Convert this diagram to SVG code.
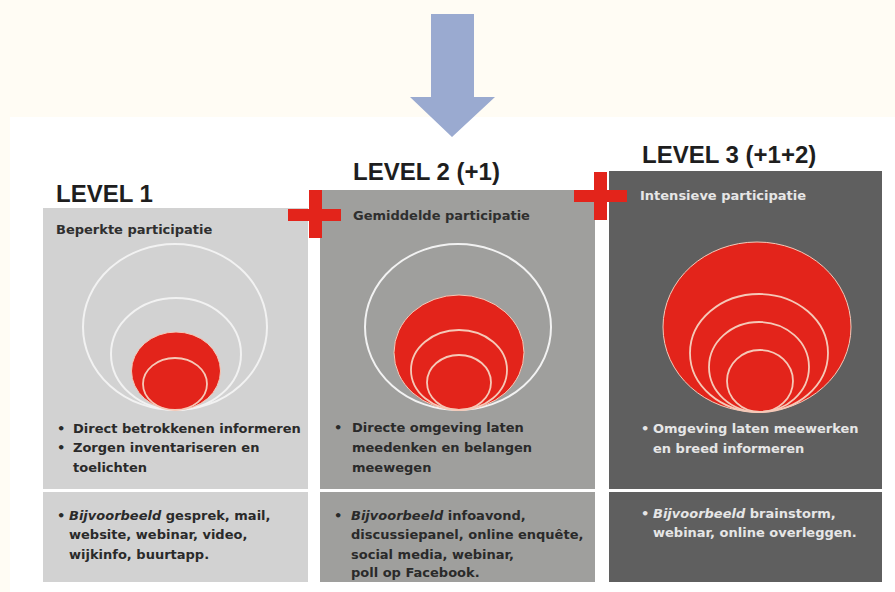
<svg xmlns="http://www.w3.org/2000/svg" width="895" height="592" viewBox="0 0 895 592">
  <style>
    .lvl { font-family: "Liberation Sans", Arial, sans-serif; font-weight: bold; font-size: 24px; fill: #1e1e1e; }
    .hd { font-family: "DejaVu Sans", "Liberation Sans", sans-serif; font-weight: bold; font-size: 13px; fill: #2f2f2f; }
    .tx { font-family: "DejaVu Sans", "Liberation Sans", sans-serif; font-weight: bold; font-size: 13px; fill: #2a2a2a; }
    .lt { fill: #e6e6e6; }
    .ring { fill: none; stroke: #f2f2f2; stroke-width: 2; }
    .rring { fill: none; stroke: #f5c9b8; stroke-width: 1.8; }
    .red { fill: #e3241b; stroke: #f5c9b8; stroke-width: 1; }
    .cross { fill: #e3241b; }
    .div { fill: #ffffff; }
  </style>
  <rect x="0" y="0" width="895" height="592" fill="#fffcf4"/>
  <rect x="10" y="117" width="885" height="475" fill="#ffffff"/>

  <g id="connectors">
    <polygon points="431,14 474,14 474,97 495,97 452,137 410,97 431,97" fill="#9aaad0"/>
  </g>

  <g id="level1">
    <text class="lvl" x="56" y="202">LEVEL 1</text>
    <rect x="43" y="208" width="265" height="374" fill="#d2d2d2"/>
    <rect class="div" x="43" y="489" width="265" height="3"/>
    <text class="hd" x="56" y="234">Beperkte participatie</text>
    <ellipse class="ring" cx="175" cy="327" rx="92" ry="83"/>
    <ellipse class="ring" cx="176" cy="354" rx="65" ry="56"/>
    <ellipse class="red" cx="176" cy="371" rx="44.5" ry="39"/>
    <ellipse class="rring" cx="175" cy="384" rx="32" ry="26"/>
    <text class="tx" x="57" y="433">•</text>
    <text class="tx" x="73" y="433">Direct betrokkenen informeren</text>
    <text class="tx" x="57" y="452">•</text>
    <text class="tx" x="73" y="452">Zorgen inventariseren en</text>
    <text class="tx" x="73" y="472">toelichten</text>
    <text class="tx" x="57" y="520">•</text>
    <text class="tx" x="69" y="520"><tspan font-style="italic">Bijvoorbeeld</tspan> gesprek, mail,</text>
    <text class="tx" x="69" y="539">website, webinar, video,</text>
    <text class="tx" x="69" y="559">wijkinfo, buurtapp.</text>
  </g>

  <g id="level2">
    <text class="lvl" x="353" y="180">LEVEL 2 (+1)</text>
    <rect x="320" y="190" width="275" height="392" fill="#9f9f9d"/>
    <rect class="div" x="320" y="489" width="275" height="3"/>
    <text class="hd" x="353" y="220">Gemiddelde participatie</text>
    <ellipse class="ring" cx="458" cy="327" rx="93" ry="83"/>
    <ellipse class="red" cx="459" cy="352.5" rx="65" ry="57.5"/>
    <ellipse class="rring" cx="459" cy="370" rx="48" ry="40"/>
    <ellipse class="rring" cx="459" cy="382.5" rx="32" ry="27.5"/>
    <text class="tx" x="334" y="432">•</text>
    <text class="tx" x="352" y="432">Directe omgeving laten</text>
    <text class="tx" x="352" y="452">meedenken en belangen</text>
    <text class="tx" x="352" y="472">meewegen</text>
    <text class="tx" x="334" y="520">•</text>
    <text class="tx" x="351" y="520"><tspan font-style="italic">Bijvoorbeeld</tspan> infoavond,</text>
    <text class="tx" x="351" y="539">discussiepanel, online enquête,</text>
    <text class="tx" x="351" y="559">social media, webinar,</text>
    <text class="tx" x="351" y="577">poll op Facebook.</text>
  </g>

  <g id="level3">
    <text class="lvl" x="642" y="163">LEVEL 3 (+1+2)</text>
    <rect x="609" y="171" width="273" height="411" fill="#5f5f5f"/>
    <rect class="div" x="609" y="489" width="273" height="3"/>
    <text class="hd lt" x="640" y="200">Intensieve participatie</text>
    <ellipse class="red" cx="757" cy="327" rx="94" ry="85"/>
    <ellipse class="rring" cx="759" cy="353" rx="69" ry="59"/>
    <ellipse class="rring" cx="759" cy="367" rx="50" ry="45"/>
    <ellipse class="rring" cx="760" cy="381" rx="33" ry="31"/>
    <text class="tx lt" x="641" y="433">•</text>
    <text class="tx lt" x="653" y="433">Omgeving laten meewerken</text>
    <text class="tx lt" x="653" y="453">en breed informeren</text>
    <text class="tx lt" x="641" y="518">•</text>
    <text class="tx lt" x="653" y="518"><tspan font-style="italic">Bijvoorbeeld</tspan> brainstorm,</text>
    <text class="tx lt" x="653" y="537">webinar, online overleggen.</text>
  </g>

  <g id="cross1">
    <rect class="cross" x="309" y="190" width="13" height="48"/>
    <rect class="cross" x="288" y="209" width="53" height="12"/>
  </g>
  <g id="cross2">
    <rect class="cross" x="594" y="172" width="13" height="48"/>
    <rect class="cross" x="574" y="190" width="53" height="12"/>
  </g>
</svg>
